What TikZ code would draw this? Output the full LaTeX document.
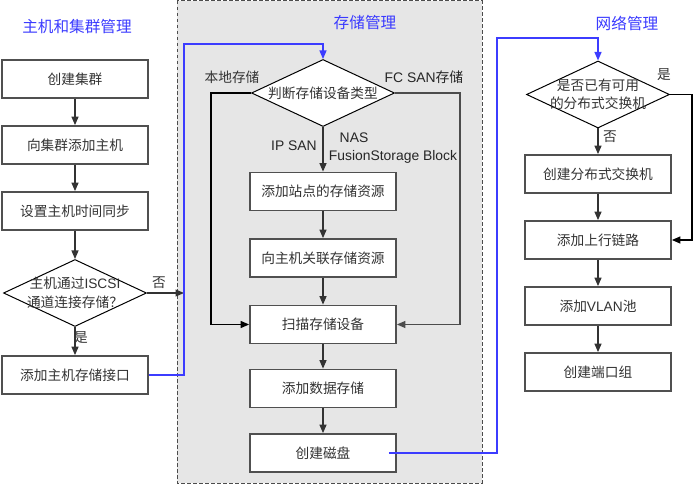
\documentclass[tikz,border=0pt]{standalone}
\usepackage{fontspec}
\setmainfont{Liberation Sans}
\newfontfamily\cjk{Noto Sans CJK SC}
\newfontfamily\latfont{Liberation Sans}
\usetikzlibrary{shapes.geometric,arrows.meta}
\definecolor{txtgray}{HTML}{333333}
\definecolor{linegray}{HTML}{505050}
\definecolor{panelgray}{HTML}{E6E6E6}
\definecolor{titleblue}{HTML}{3B3BFF}
\definecolor{flowblue}{HTML}{3C3CFF}
\tikzset{
  stepbox/.style={draw=linegray, fill=white, line width=0.035cm, minimum width=2.92cm, minimum height=0.76cm, inner sep=0pt, text=txtgray, font=\cjk\fontsize{7.8}{9}\selectfont},
  decision/.style={draw=black, fill=white, shape=diamond, aspect=2.13, line width=0.02cm, minimum width=2.86cm, minimum height=1.34cm, inner sep=0pt},
  dtext/.style={align=center, inner sep=0pt, text=txtgray, font=\cjk\fontsize{7.8}{10.5}\selectfont},
  tag/.style={inner sep=0pt, text=txtgray, font=\cjk\fontsize{7.8}{9}\selectfont},
  ltag/.style={inner sep=0pt, text=black!85, font=\latfont\fontsize{7.9}{9}\selectfont},
  title/.style={inner sep=0pt, text=titleblue, font=\cjk\fontsize{8.9}{10}\selectfont},
  flow/.style={draw=black!80, line width=0.025cm, -{Triangle[length=0.17cm,width=0.14cm]}},
  bluelink/.style={draw=flowblue, line width=0.025cm, -{Triangle[length=0.17cm,width=0.14cm]}},
}
\begin{document}
\begin{tikzpicture}
                \useasboundingbox (0,0) rectangle (13.86,9.70);

                % Drawing storage panel
                \draw [fill=panelgray, draw=black!70, line width=0.02cm, dash pattern=on 0.07cm off 0.05cm] (3.54,9.68) rectangle (9.64,0.04);%

                % Titles
                \node [title] (t-host) at (1.54,9.16) {主机和集群管理};%
                \node [title] (t-store) at (7.30,9.24) {存储管理};%
                \node [title] (t-net) at (12.54,9.24) {网络管理};%

                % Host and cluster column
                \node [stepbox] (cl) at (1.50,8.12) {创建集群};%
                \node [stepbox] (addh) at (1.50,6.80) {向集群添加主机};%
                \node [stepbox] (tsync) at (1.50,5.48) {设置主机时间同步};%
                \node [decision] (isc) at (1.50,3.84) {};%
                \node [dtext] (isc-t) at (isc) {主机通过{\latfont ISCSI}\\通道连接存储？};%
                \node [stepbox] (hif) at (1.50,2.20) {添加主机存储接口};%
                \node [tag] (isc-no) at (3.18,4.04) {否};%
                \node [tag] (isc-yes) at (1.62,2.94) {是};%
                \coordinate (bl1) at (3.68,8.82);

                % Storage column
                \node [decision] (typ) at (6.46,7.84) {};%
                \node [dtext] (typ-t) at (typ) {判断存储设备类型};%
                \node [stepbox] (site) at (6.46,5.87) {添加站点的存储资源};%
                \node [stepbox] (assoc) at (6.46,4.54) {向主机关联存储资源};%
                \node [stepbox] (scan) at (6.46,3.21) {扫描存储设备};%
                \node [stepbox] (dstore) at (6.46,1.93) {添加数据存储};%
                \node [stepbox] (disk) at (6.46,0.64) {创建磁盘};%
                \coordinate (lp) at (4.22,7.84);
                \coordinate (rp) at (9.20,7.84);
                \coordinate (bl2) at (9.94,8.94);
                \node [tag] (local) at (4.64,8.16) {本地存储};%
                \node [ltag] (fc) at (8.48,8.16) {FC SAN{\cjk 存储}};%
                \node [ltag] (ipsan) at (5.88,6.78) {IP SAN};%
                \node [ltag] (nas) at (7.08,6.94) {NAS};%
                \node [ltag] (fsb) at (7.86,6.56) {FusionStorage Block};%

                % Network column
                \node [decision] (ex) at (11.96,7.81) {};%
                \node [dtext] (ex-t) at (ex) {是否已有可用\\的分布式交换机};%
                \node [stepbox] (vsw) at (11.96,6.22) {创建分布式交换机};%
                \node [stepbox] (upl) at (11.96,4.90) {添加上行链路};%
                \node [stepbox] (vlan) at (11.96,3.58) {添加{\latfont VLAN}池};%
                \node [stepbox] (pg) at (11.96,2.26) {创建端口组};%
                \coordinate (rp2) at (13.84,7.81);
                \node [tag] (ex-yes) at (13.28,8.20) {是};%
                \node [tag] (ex-no) at (12.20,6.96) {否};%

                % Drawing host connectors
                \draw [flow] (cl) -- (addh);%
                \draw [flow] (addh) -- (tsync);%
                \draw [flow] (tsync) -- (isc);%
                \draw [flow] (isc) -- (hif);%
                \draw [flow] (isc.east) -- (isc.east -| bl1);%
                \draw [bluelink] (hif.east) -| (bl1) -| (typ.north);%

                % Drawing storage connectors
                \draw [flow] (typ) -- (site);%
                \draw [flow] (site) -- (assoc);%
                \draw [flow] (assoc) -- (scan);%
                \draw [flow] (scan) -- (dstore);%
                \draw [flow] (dstore) -- (disk);%
                \draw [flow, draw=black] (typ.west) -- (lp) |- (scan.west);%
                \draw [flow, draw=black!70] (typ.east) -- (rp) |- (scan.east);%
                \draw [bluelink] ([xshift=-0.16cm]disk.east) -| (bl2) -| (ex.north);%

                % Drawing network connectors
                \draw [flow] (ex) -- (vsw);%
                \draw [flow] (vsw) -- (upl);%
                \draw [flow] (upl) -- (vlan);%
                \draw [flow] (vlan) -- (pg);%
                \draw [flow, draw=black] (ex.east) -- (rp2) |- (upl.east);%
\end{tikzpicture}
\end{document}
